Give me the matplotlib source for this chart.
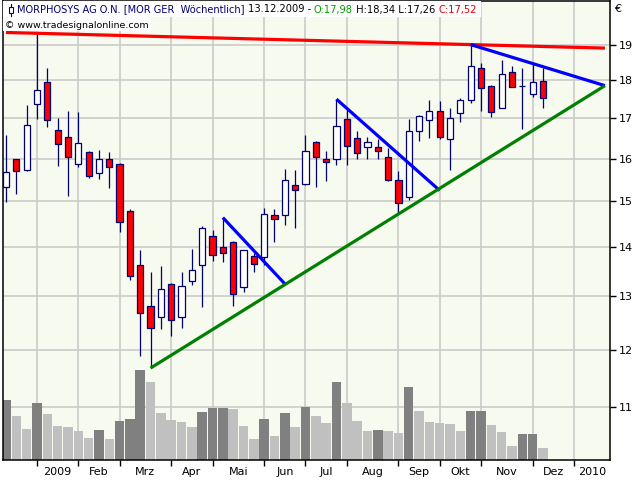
import matplotlib
matplotlib.use('Agg')
import matplotlib.pyplot as plt
import matplotlib.transforms as mtransforms
from matplotlib.ticker import FixedLocator, NullLocator, FixedFormatter
from matplotlib.patches import Rectangle
from matplotlib.lines import Line2D
import numpy as np
import pandas as pd

# MorphoSys weekly candles, Dec 2008 - Dec 2009
weeks = pd.date_range('2008-12-08', periods=53, freq='W-MON')
opens = [15.33, 15.98, 15.72, 17.36, 17.97, 16.71, 16.53, 15.88, 16.15, 15.65, 15.98, 15.88, 14.79,
         13.63, 12.81, 12.61, 13.24, 12.61, 13.31, 13.63, 14.24, 14.00, 14.11, 13.19, 13.82, 13.80,
         14.70, 14.70, 15.38, 15.40, 16.40, 15.98, 15.98, 16.98, 16.51, 16.28, 16.28, 16.05, 15.49,
         15.10, 16.68, 16.96, 17.20, 16.48, 17.15, 17.49, 18.35, 17.86, 17.28, 18.24, 17.85, 17.65, 17.98]
highs = [16.59, 16.00, 17.34, 19.34, 18.35, 17.01, 17.20, 17.17, 16.18, 16.21, 16.16, 15.90, 14.82,
         13.94, 13.48, 13.62, 13.26, 13.49, 13.97, 14.45, 14.37, 14.64, 14.13, 13.95, 13.88, 14.86,
         14.83, 15.75, 15.73, 16.58, 16.42, 16.18, 17.50, 17.21, 16.67, 16.54, 16.48, 16.25, 15.70,
         16.98, 17.10, 17.47, 17.45, 17.26, 17.54, 19.00, 18.47, 17.89, 18.55, 18.41, 18.35, 18.49, 18.34]
lows = [14.98, 15.18, 15.70, 16.98, 16.77, 15.83, 15.12, 15.81, 15.55, 15.52, 15.30, 14.32, 13.32,
        11.88, 11.67, 12.37, 12.25, 12.40, 13.23, 12.79, 13.71, 13.70, 12.81, 13.09, 13.48, 13.63,
        14.11, 14.48, 14.41, 15.38, 15.32, 15.48, 15.85, 15.84, 15.98, 15.98, 15.98, 15.47, 14.71,
        15.04, 16.44, 16.50, 16.47, 15.73, 16.90, 17.41, 17.20, 17.04, 17.26, 17.82, 16.73, 17.57, 17.26]
closes = [15.68, 15.70, 16.83, 17.75, 16.96, 16.35, 16.03, 16.38, 15.58, 15.98, 15.79, 14.55, 13.41,
          12.67, 12.39, 13.14, 12.55, 13.20, 13.53, 14.42, 13.84, 13.87, 13.04, 13.94, 13.65, 14.72,
          14.61, 15.49, 15.26, 16.18, 16.04, 15.93, 16.81, 16.31, 16.13, 16.40, 16.18, 15.49, 14.97,
          16.68, 17.06, 17.20, 16.52, 17.01, 17.49, 18.40, 17.81, 17.17, 18.18, 17.83, 17.84, 17.97, 17.52]
volume = [600, 440, 310, 570, 460, 340, 330, 290, 220, 300, 210, 390, 410, 900, 780, 470, 400, 380,
          330, 480, 520, 525, 510, 340, 210, 410, 240, 470, 330, 530, 440, 370, 780, 570, 390, 290,
          300, 290, 270, 730, 490, 380, 370, 365, 290, 490, 495, 350, 280, 140, 260, 265, 120]

price_ticks = [11, 12, 13, 14, 15, 16, 17, 18, 19]
month_labels = ['2009', 'Feb', 'Mrz', 'Apr', 'Mai', 'Jun', 'Jul', 'Aug', 'Sep', 'Okt', 'Nov', 'Dez', '2010']

# trend lines: (week index, price)
red_line = [(0, 19.35), (58, 18.90)]
blue_lines = [[(21, highs[21]), (27, 13.25)],
              [(32, highs[32]), (42, 15.25)],
              [(45, highs[45]), (58, 17.86)]]
green_line = [(14, lows[14]), (58, 17.86)]

navy = '#000070'
x = np.arange(len(weeks))
o = np.array(opens); c = np.array(closes)

fig = plt.figure(figsize=(6.4, 4.8), dpi=100, facecolor='white')
ax = fig.add_axes([3/640, 20/480, 607/640, 459/480])
ax.set_facecolor('#f7faee')
ax.set_yscale('log')
ax.set_ylim(10.16, 20.29)
ax.set_xlim(-0.29, 58.49)

# volume bars, scaled to the lower part of the chart
vol_top = 4590
vol_trans = mtransforms.Affine2D().scale(1, 1 / vol_top) + \
    mtransforms.blended_transform_factory(ax.transData, ax.transAxes)
vcol = ['#808080' if i == 0 or volume[i] > volume[i - 1] else '#c0c0c0' for i in range(len(volume))]
for i in range(len(volume)):
    ax.add_patch(Rectangle((x[i] - 0.46, 0), 0.92, volume[i], transform=vol_trans,
                           facecolor=vcol[i], edgecolor='none', zorder=1))

# candles
ax.vlines(x, lows, highs, color=navy, lw=0.9, zorder=3)
body_col = ['white' if c[i] >= o[i] else '#ff0000' for i in range(len(x))]
ax.bar(x, np.abs(c - o), bottom=np.minimum(o, c), width=0.6, color=body_col,
       edgecolor=navy, linewidth=0.9, zorder=4)

# trend lines
ax.plot(*zip(*red_line), color='#ff0000', lw=2.3, zorder=5, solid_capstyle='butt')
for bl in blue_lines:
    ax.plot(*zip(*bl), color='#0000ff', lw=2.3, zorder=5, solid_capstyle='butt')
ax.plot(*zip(*green_line), color='#008000', lw=2.3, zorder=5, solid_capstyle='butt')

# axes: months at the bottom, prices at the right
ext = pd.date_range(weeks[0], periods=58, freq='W-MON')
month_pos = [i for i, w in enumerate(ext) if (w + pd.Timedelta(days=6)).day <= 7]
edges = month_pos + [ax.get_xlim()[1]]
label_pos = [(edges[j] + edges[j + 1]) / 2 for j in range(len(month_pos))]
ax.xaxis.set_major_locator(FixedLocator(month_pos))
ax.xaxis.set_major_formatter(FixedFormatter([''] * len(month_pos)))
ax.xaxis.set_minor_locator(FixedLocator(label_pos))
ax.xaxis.set_minor_formatter(FixedFormatter(month_labels))
ax.tick_params(axis='x', which='major', length=4, width=1, direction='out', color='black')
ax.tick_params(axis='x', which='minor', length=0, labelsize=8, pad=5)

ax.yaxis.tick_right()
ax.yaxis.set_major_locator(FixedLocator(price_ticks))
ax.yaxis.set_major_formatter(FixedFormatter([str(p) for p in price_ticks]))
ax.yaxis.set_minor_locator(NullLocator())
ax.tick_params(axis='y', which='major', length=4, width=1, direction='out', labelsize=8, pad=2)

ax.set_axisbelow(True)
ax.grid(True, which='major', color='#c8c8c8', lw=1.1)
for s in ax.spines.values():
    s.set_color('black')
    s.set_linewidth(1.1)

# header (pixel coordinates, top-left of the chart)
px = mtransforms.IdentityTransform()
ax.add_patch(Rectangle((3, 480 - 17), 478, 16, transform=px, facecolor='white',
                       edgecolor='none', zorder=6, clip_on=False))
ax.add_patch(Rectangle((3, 480 - 31), 148, 14, transform=px, facecolor='white',
                       edgecolor='none', zorder=6, clip_on=False))
ax.add_line(Line2D([11, 11], [480 - 4, 480 - 16], transform=px, color=navy, lw=0.8,
                   zorder=7, clip_on=False))
ax.add_patch(Rectangle((9, 480 - 13), 4, 6, transform=px, facecolor='white', edgecolor=navy,
                       lw=0.8, zorder=8, clip_on=False))

parts = [('MORPHOSYS AG O.N. [MOR GER  Wöchentlich] ', navy),
         ('13.12.2009 - ', 'black'),
         ('O:17,98', '#00a000'),
         (' H:18,34 L:17,26 ', 'black'),
         ('C:17,52', '#e00000')]
prev = ax.annotate(parts[0][0], xy=(17, 480 - 9.5), xycoords='figure pixels', va='center', ha='left',
                   fontsize=7.1, color=parts[0][1], zorder=9)
for txt, col in parts[1:]:
    prev = ax.annotate(txt, xy=(1, 0), xycoords=prev, va='bottom', ha='left',
                       fontsize=7.1, color=col, zorder=9)
ax.annotate('© www.tradesignalonline.com', xy=(5, 480 - 25), xycoords='figure pixels',
            va='center', ha='left', fontsize=6.8, color='black', zorder=9)
fig.text(614 / 640, 1 - 9 / 480, '€', fontsize=8, va='center', ha='left')

fig.savefig('out.png', dpi=100, facecolor='white')
